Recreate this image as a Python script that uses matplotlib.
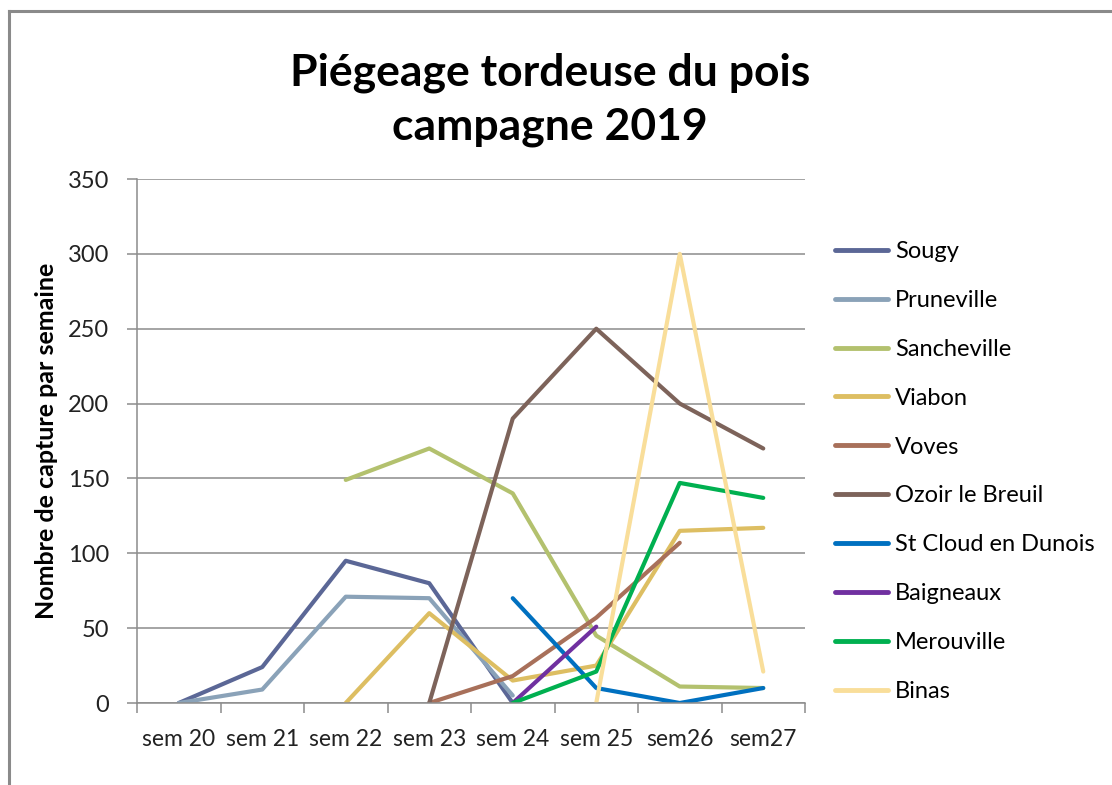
import numpy as np
import matplotlib
matplotlib.use("Agg")
import matplotlib.pyplot as plt
from matplotlib.lines import Line2D

nan = np.nan
weeks = ["sem 20", "sem 21", "sem 22", "sem 23", "sem 24", "sem 25", "sem26", "sem27"]

sougy = [0, 24, 95, 80, 0, nan, nan, nan]
pruneville = [0, 9, 71, 70, 5, nan, nan, nan]
sancheville = [nan, nan, 149, 170, 140, 45, 11, 10]
viabon = [nan, nan, 0, 60, 15, 25, 115, 117]
voves = [nan, nan, nan, 0, 18, 57, 107, nan]
ozoir = [nan, nan, nan, 0, 190, 250, 200, 170]
st_cloud = [nan, nan, nan, nan, 70, 10, 0, 10]
baigneaux = [nan, nan, nan, nan, 0, 51, nan, nan]
merouville = [nan, nan, nan, nan, 0, 21, 147, 137]
binas = [nan, nan, nan, nan, nan, 0, 300, 21]

series = [
    ("Sougy", sougy, "#5B6796"),
    ("Pruneville", pruneville, "#8AA2B8"),
    ("Sancheville", sancheville, "#B3C16E"),
    ("Viabon", viabon, "#DDBE62"),
    ("Voves", voves, "#A8705A"),
    ("Ozoir le Breuil", ozoir, "#7D635A"),
    ("St Cloud en Dunois", st_cloud, "#0070C0"),
    ("Baigneaux", baigneaux, "#7030A0"),
    ("Merouville", merouville, "#00B050"),
    ("Binas", binas, "#F9DE9A"),
]

plt.rcParams['font.family'] = ['Lato', 'DejaVu Sans']

fig = plt.figure(figsize=(11.12, 7.85), dpi=100)
ax = fig.add_axes([137/1112, 1-703/785, (805-137)/1112, (703-179)/785])

x = np.arange(len(weeks))
for name, vals, col in series:
    ax.plot(x, vals, color=col, lw=3, label=name, solid_capstyle='round', solid_joinstyle='round')

ax.set_xlim(-0.5, len(weeks) - 0.5)
ax.set_ylim(0, 350)
ax.set_yticks(np.arange(0, 351, 50))
ax.yaxis.grid(True, color='#8C8C8C', lw=1.1)
ax.set_axisbelow(True)

ax.set_xticks(np.arange(-0.5, len(weeks), 1.0))
ax.set_xticklabels([])
ax.set_xticks(x, minor=True)
ax.set_xticklabels(weeks, minor=True)
ax.tick_params(axis='x', which='major', length=7, width=1.1, color='#8C8C8C', direction='out')
ax.tick_params(axis='x', which='minor', length=0, pad=19, labelsize=16.5, labelcolor='#222222')
ax.tick_params(axis='y', length=7, width=1.1, color='#8C8C8C', labelsize=17, labelcolor='#222222', pad=13)

for s in ['top', 'right']:
    ax.spines[s].set_visible(False)
for s in ['left', 'bottom']:
    ax.spines[s].set_color('#8C8C8C')
    ax.spines[s].set_linewidth(1.1)

ax.set_ylabel("Nombre de capture par semaine", fontsize=18, fontweight='bold')
ax.yaxis.set_label_coords((58-137)/668, 0.5)

fig.text(550/1112, 1-99.5/785, "Piégeage tordeuse du pois\ncampagne 2019", ha='center', va='center',
         fontsize=32, fontweight='bold', linespacing=1.42)

leg = fig.legend(loc='center left', bbox_to_anchor=(835/1112, 1-471.5/785), frameon=False,
                 fontsize=17, handlelength=2.25, handletextpad=0.3, labelspacing=1.18,
                 borderpad=0, borderaxespad=0)
for line in leg.get_lines():
    line.set_linewidth(3.5)
    line.set_solid_capstyle('round')

# chart frame (left and top edges)
fig.add_artist(Line2D([9/1112, 9/1112], [0, 1-11/785], color='#8A8A8A', lw=2.2, transform=fig.transFigure))
fig.add_artist(Line2D([9/1112, 1], [1-11/785, 1-11/785], color='#8A8A8A', lw=2.2, transform=fig.transFigure))

fig.savefig("out.png", dpi=100, facecolor='white')
